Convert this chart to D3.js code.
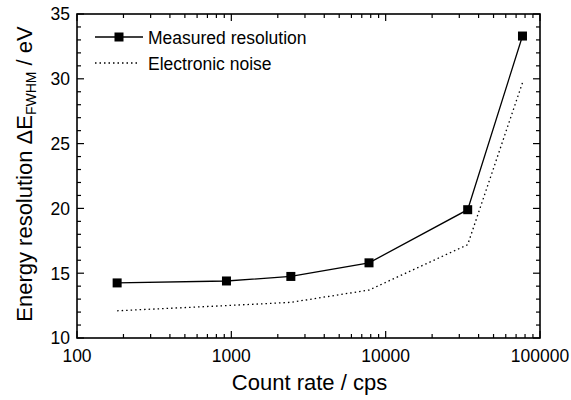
<!DOCTYPE html>
<html>
<head>
<meta charset="utf-8">
<script src="https://cdn.jsdelivr.net/npm/d3@7"></script>
<style>
  body { margin: 0; background: #fff; }
  svg { font-family: 'Liberation Sans', Arial, sans-serif; }
</style>
</head>
<body>
<div id="chart"></div>
<script>
// data
const countRate = [182, 930, 2430, 7800, 34000, 77000]
const measured = [14.25, 14.4, 14.75, 15.8, 19.9, 33.3]
const noise = [12.1, 12.5, 12.75, 13.7, 17.2, 29.7]
const xTicks = [100, 1000, 10000, 100000]
const yTicks = [10, 15, 20, 25, 30, 35]

const width = 571
const height = 400
const margin = { top: 14, right: 31, bottom: 62, left: 77 }
const innerW = width - margin.left - margin.right
const innerH = height - margin.top - margin.bottom

const svg = d3.select('#chart').append('svg')
  .attr('width', width)
  .attr('height', height)

const g = svg.append('g')
  .attr('transform', `translate(${margin.left},${margin.top})`)

const x = d3.scaleLog().domain([100, 100000]).range([0, innerW])
const y = d3.scaleLinear().domain([10, 35]).range([innerH, 0])

// minor ticks
const xMinor = []
for (let d = 100; d < 100000; d *= 10) {
  for (let k = 2; k <= 9; k++) xMinor.push(d * k)
}
const yMinor = d3.range(10, 36, 1).filter(v => v % 5 !== 0)

const tickG = g.append('g').attr('stroke', '#000').attr('stroke-width', 1.2)

// bottom + top ticks (inward)
xTicks.forEach(v => {
  tickG.append('line').attr('x1', x(v)).attr('x2', x(v)).attr('y1', innerH).attr('y2', innerH - 7)
  tickG.append('line').attr('x1', x(v)).attr('x2', x(v)).attr('y1', 0).attr('y2', 7)
})
xMinor.forEach(v => {
  tickG.append('line').attr('x1', x(v)).attr('x2', x(v)).attr('y1', innerH).attr('y2', innerH - 4)
  tickG.append('line').attr('x1', x(v)).attr('x2', x(v)).attr('y1', 0).attr('y2', 4)
})
// left + right ticks (inward)
yTicks.forEach(v => {
  tickG.append('line').attr('x1', 0).attr('x2', 7).attr('y1', y(v)).attr('y2', y(v))
  tickG.append('line').attr('x1', innerW).attr('x2', innerW - 7).attr('y1', y(v)).attr('y2', y(v))
})
yMinor.forEach(v => {
  tickG.append('line').attr('x1', 0).attr('x2', 4).attr('y1', y(v)).attr('y2', y(v))
  tickG.append('line').attr('x1', innerW).attr('x2', innerW - 4).attr('y1', y(v)).attr('y2', y(v))
})

// frame
g.append('rect')
  .attr('width', innerW)
  .attr('height', innerH)
  .attr('fill', 'none')
  .attr('stroke', '#000')
  .attr('stroke-width', 1.6)

// tick labels
g.selectAll('.xlab').data(xTicks).enter().append('text')
  .attr('x', d => x(d))
  .attr('y', innerH + 24)
  .attr('text-anchor', 'middle')
  .attr('font-size', 17.5)
  .text(d => d)

g.selectAll('.ylab').data(yTicks).enter().append('text')
  .attr('x', -7)
  .attr('y', d => y(d) + 6.3)
  .attr('text-anchor', 'end')
  .attr('font-size', 17.5)
  .text(d => d)

// axis titles
svg.append('text')
  .attr('x', margin.left + innerW / 2 + 1)
  .attr('y', 390)
  .attr('text-anchor', 'middle')
  .attr('font-size', 22)
  .text('Count rate / cps')

const yTitle = svg.append('text')
  .attr('transform', `translate(32,${margin.top + innerH / 2 - 2}) rotate(-90)`)
  .attr('text-anchor', 'middle')
  .attr('font-size', 22)
yTitle.append('tspan').text('Energy resolution \u0394E')
yTitle.append('tspan').attr('font-size', 14).attr('dy', 4).text('FWHM')
yTitle.append('tspan').attr('dy', -4).text(' / eV')

// lines
const line = d3.line().x(d => x(d[0])).y(d => y(d[1]))

g.append('path')
  .datum(countRate.map((c, i) => [c, noise[i]]))
  .attr('d', line)
  .attr('fill', 'none')
  .attr('stroke', '#000')
  .attr('stroke-width', 1.3)
  .attr('stroke-dasharray', '1.5,3')

g.append('path')
  .datum(countRate.map((c, i) => [c, measured[i]]))
  .attr('d', line)
  .attr('fill', 'none')
  .attr('stroke', '#000')
  .attr('stroke-width', 1.3)

const ms = 9
g.selectAll('.pt').data(countRate.map((c, i) => [c, measured[i]])).enter().append('rect')
  .attr('x', d => x(d[0]) - ms / 2)
  .attr('y', d => y(d[1]) - ms / 2)
  .attr('width', ms)
  .attr('height', ms)
  .attr('fill', '#000')

// legend
const leg = svg.append('g')
leg.append('line').attr('x1', 95).attr('x2', 143).attr('y1', 37).attr('y2', 37)
  .attr('stroke', '#000').attr('stroke-width', 1.3)
leg.append('rect').attr('x', 119 - ms / 2).attr('y', 37 - ms / 2).attr('width', ms).attr('height', ms).attr('fill', '#000')
leg.append('text').attr('x', 148).attr('y', 44).attr('font-size', 17.5).text('Measured resolution')
leg.append('line').attr('x1', 95).attr('x2', 140).attr('y1', 63).attr('y2', 63)
  .attr('stroke', '#000').attr('stroke-width', 1.3).attr('stroke-dasharray', '1.5,3')
leg.append('text').attr('x', 148).attr('y', 70).attr('font-size', 17.5).text('Electronic noise')
</script>
</body>
</html>
